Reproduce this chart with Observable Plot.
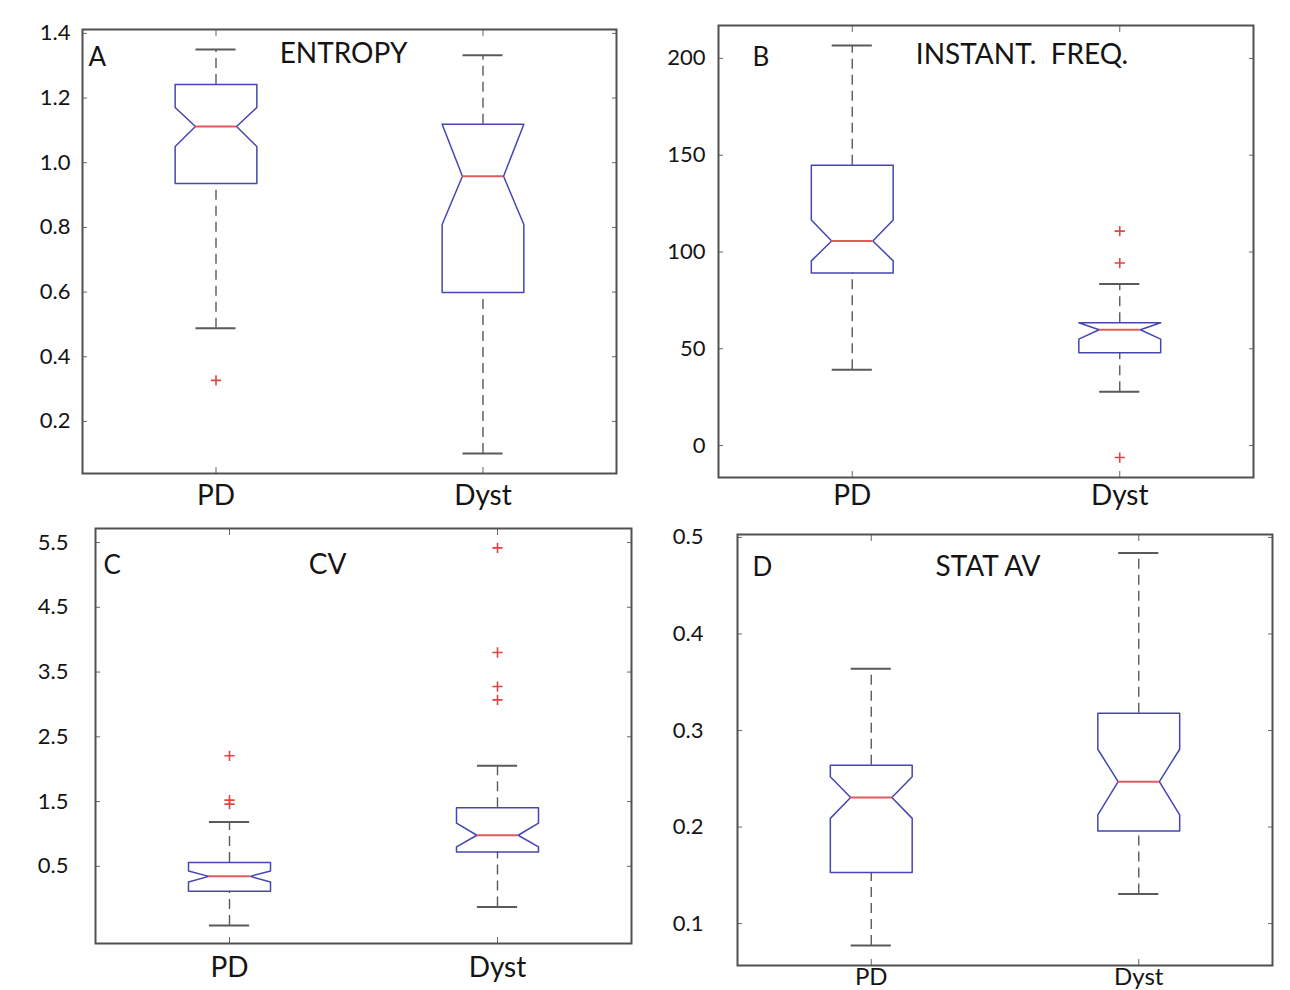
<!DOCTYPE html>
<html><head><meta charset="utf-8">
<script src="https://cdn.jsdelivr.net/npm/d3@7"></script>
<script src="https://cdn.jsdelivr.net/npm/@observablehq/plot@0.6"></script>
<style>
html,body{margin:0;padding:0;background:#fff;overflow:hidden;}
#root{position:relative;width:1290px;height:990px;font-family:Lato,sans-serif;color:#141414;}
#root > div{position:absolute;}
</style></head><body><div id="root"></div>
<script>
const groups = ["PD", "Dyst"];
// each stat row: [whisker low, Q1, notch low, median, notch high, Q3, whisker high]
const entropyStats = [[0.488, 0.936, 1.050, 1.112, 1.171, 1.242, 1.350],
                      [0.101, 0.599, 0.809, 0.958, 1.120, 1.119, 1.332]];
const entropyOutliers = [[0.327], []];
const entropyTicks = [0.2, 0.4, 0.6, 0.8, 1.0, 1.2, 1.4];

const freqStats = [[39.2, 89.2, 95.4, 105.7, 116.5, 144.8, 206.7],
                   [27.8, 48.0, 55.0, 59.8, 64.6, 63.4, 83.5]];
const freqOutliers = [[], [-6.2, 94.3, 110.8]];
const freqTicks = [0, 50, 100, 150, 200];

const cvStats = [[-0.413, 0.113, 0.257, 0.345, 0.427, 0.557, 1.186],
                 [-0.13, 0.72, 0.799, 0.98, 1.166, 1.403, 2.053]];
const cvOutliers = [[1.46, 1.522, 2.207], [3.07, 3.276, 3.802, 5.418]];
const cvTicks = [0.5, 1.5, 2.5, 3.5, 4.5, 5.5];

const statStats = [[0.0773, 0.153, 0.209, 0.2305, 0.252, 0.264, 0.364],
                   [0.1307, 0.196, 0.2127, 0.247, 0.2806, 0.3178, 0.4838]];
const statOutliers = [[], []];
const statTicks = [0.1, 0.2, 0.3, 0.4, 0.5];

const BOX = "#4646b2", MED = "#e05a5a", WHISK = "#5a5a5a", OUT = "#e04444", FRAME = "#505050";
const W = 0.153, N = 0.077, CAP = 0.075;

function panel(o) {
  const rows = o.stats.map((s, i) => ({g: groups[i], x: i + 1, lo: s[0], q1: s[1], nl: Math.max(s[2], s[1]), md: s[3], nu: Math.min(s[4], s[5]), q3: s[5], hi: s[6]}));
  const boxPts = [];
  rows.forEach(r => {
    const pts = [[r.x - W, r.q3], [r.x + W, r.q3], [r.x + W, r.nu], [r.x + N, r.md], [r.x + W, r.nl], [r.x + W, r.q1],
                 [r.x - W, r.q1], [r.x - W, r.nl], [r.x - N, r.md], [r.x - W, r.nu], [r.x - W, r.q3]];
    pts.forEach(([px, py]) => boxPts.push({g: r.g, x: px, y: py}));
  });
  const outs = [];
  o.outliers.forEach((arr, i) => arr.forEach(v => outs.push({x: i + 1, y: v})));
  const L = o.layout;
  const chart = Plot.plot({
    width: L.w, height: L.h,
    marginLeft: L.ml, marginRight: L.mr, marginTop: L.mt, marginBottom: L.mb,
    style: {fontFamily: "Lato, sans-serif", background: "transparent", overflow: "visible", color: "#141414"},
    x: {domain: [0.5, 2.5], axis: null},
    y: {domain: o.domain, axis: null},
    marks: [
      Plot.axisY(o.ticks, {anchor: "left", tickSize: 0, tickPadding: L.padY, fontSize: 22, tickFormat: o.fmt, label: null}),
      Plot.axisY(o.ticks, {anchor: "left", tickSize: -5, tickFormat: () => "", label: null, stroke: "#666"}),
      Plot.axisY(o.ticks, {anchor: "right", tickSize: -5, tickFormat: () => "", label: null, stroke: "#666"}),
      Plot.axisX([1, 2], {anchor: "bottom", tickSize: 0, tickPadding: L.padX, fontSize: L.xfs, tickFormat: d => groups[d - 1], label: null}),
      Plot.axisX([1, 2], {anchor: "bottom", tickSize: -6, tickFormat: () => "", label: null, stroke: "#666"}),
      Plot.axisX([1, 2], {anchor: "top", tickSize: -6, tickFormat: () => "", label: null, stroke: "#666"}),
      Plot.ruleX(rows, {x: "x", y1: "q3", y2: "hi", stroke: WHISK, strokeWidth: 1.4, strokeDasharray: "10,6"}),
      Plot.ruleX(rows, {x: "x", y1: "lo", y2: "q1", stroke: WHISK, strokeWidth: 1.4, strokeDasharray: "10,6"}),
      Plot.ruleY(rows, {y: "hi", x1: d => d.x - CAP, x2: d => d.x + CAP, stroke: WHISK, strokeWidth: 2}),
      Plot.ruleY(rows, {y: "lo", x1: d => d.x - CAP, x2: d => d.x + CAP, stroke: WHISK, strokeWidth: 2}),
      Plot.line(boxPts, {x: "x", y: "y", z: "g", stroke: BOX, strokeWidth: 1.5}),
      Plot.ruleY(rows, {y: "md", x1: d => d.x - N, x2: d => d.x + N, stroke: MED, strokeWidth: 2}),
      Plot.dot(outs, {x: "x", y: "y", symbol: "plus", r: 3.4, stroke: OUT, strokeWidth: 1.6}),
      Plot.text([o.letter], {frameAnchor: "top-left", textAnchor: "start", lineAnchor: "middle", dx: L.ldx, dy: L.ldy, fontSize: 26, fill: "#141414"}),
      Plot.text([o.title], {frameAnchor: "top", textAnchor: "middle", lineAnchor: "middle", dx: L.tdx, dy: L.tdy, fontSize: 28, fill: "#141414"}),
      Plot.frame({stroke: FRAME, strokeWidth: 2})
    ]
  });
  const holder = document.createElement("div");
  holder.style.left = L.left + "px";
  holder.style.top = L.top + "px";
  holder.appendChild(chart);
  document.getElementById("root").appendChild(holder);
}

const f1 = d3.format(".1f"), f0 = d3.format("d");

panel({stats: entropyStats, outliers: entropyOutliers, ticks: entropyTicks, domain: [0.039, 1.412], letter: "A", title: "ENTROPY", fmt: f1,
  layout: {left: 0, top: 0, w: 640, h: 510, ml: 82, mr: 24, mt: 29, mb: 37, padY: 12, padX: 12, xfs: 28, ldx: 6, ldy: 28, tdx: -6, tdy: 25}});
panel({stats: freqStats, outliers: freqOutliers, ticks: freqTicks, domain: [-16.5, 217], letter: "B", title: "INSTANT.\u00a0 FREQ.", fmt: f0,
  layout: {left: 640, top: 0, w: 650, h: 510, ml: 78, mr: 37, mt: 25, mb: 33, padY: 13, padX: 8, xfs: 28, ldx: 34, ldy: 32, tdx: 36, tdy: 30}});
panel({stats: cvStats, outliers: cvOutliers, ticks: cvTicks, domain: [-0.692, 5.717], letter: "C", title: "CV", fmt: f1,
  layout: {left: 0, top: 510, w: 640, h: 480, ml: 95, mr: 9, mt: 18, mb: 47, padY: 27, padX: 14, xfs: 28, ldx: 8, ldy: 37, tdx: -36, tdy: 37}});
panel({stats: statStats, outliers: statOutliers, ticks: statTicks, domain: [0.0566, 0.503], letter: "D", title: "STAT AV", fmt: f1,
  layout: {left: 640, top: 510, w: 650, h: 480, ml: 97, mr: 18, mt: 24, mb: 25, padY: 34, padX: 2, xfs: 24, ldx: 15, ldy: 33, tdx: -17, tdy: 33}});
</script>
</body></html>
